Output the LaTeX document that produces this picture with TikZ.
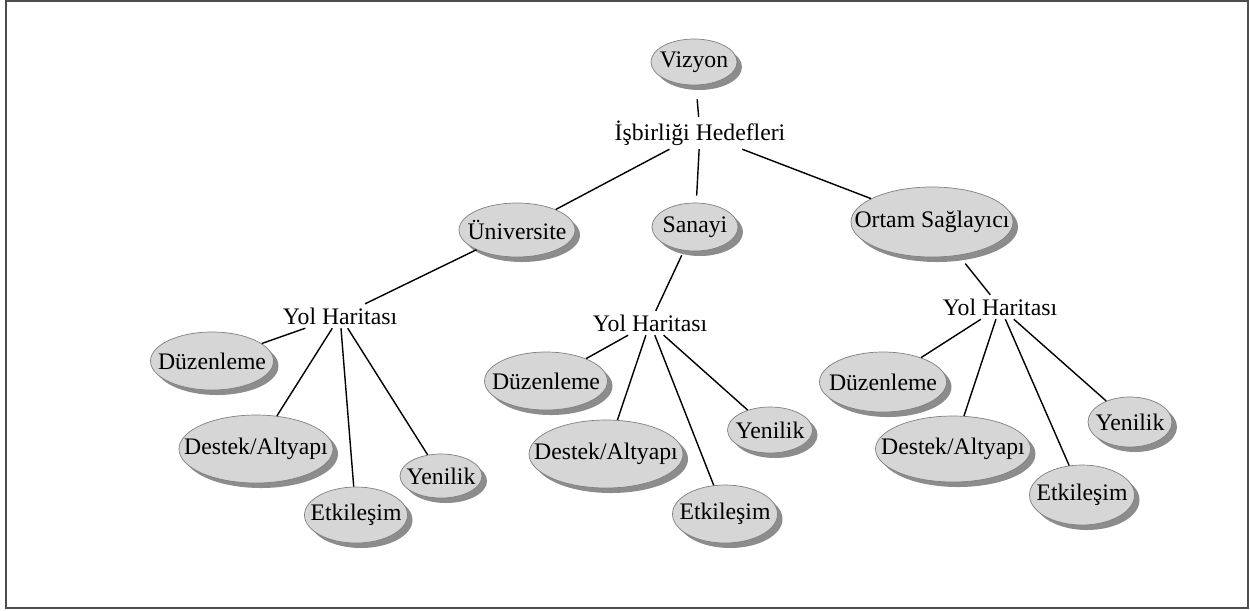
\documentclass[tikz,border=0pt]{standalone}
\usepackage{fontspec}
\setmainfont{Liberation Serif}
\usetikzlibrary{shapes.geometric,shadows}

\definecolor{bubblegray}{HTML}{D6D6D6}
\definecolor{bordergray}{HTML}{808080}
\definecolor{shadowgray}{HTML}{8C8C8C}
\definecolor{framegray}{HTML}{4D4D4D}

\tikzset{
  bubble/.style 2 args={ellipse, draw=bordergray, fill=bubblegray, inner sep=0pt,
    minimum width=#1*0.02cm, minimum height=#2*0.02cm,
    drop shadow={shadow xshift=0.1cm, shadow yshift=-0.1cm, fill=shadowgray, opacity=1}},
  plain/.style={inner sep=2pt},
  link/.style={line width=0.8pt}
}

\begin{document}
\begin{tikzpicture}[x=0.02cm, y=-0.02cm, font=\fontsize{13.5}{16}\selectfont]
  \useasboundingbox (0,0) rectangle (1250,610);
  \draw[framegray, line width=1.1pt] (6,1) rectangle (1248,608);

  % Top
  \node[bubble={86}{46}, label=center:Vizyon] (viz) at (694,62) {};
  \node[plain] (hedef) at (700,133) {İşbirliği Hedefleri};
  \node[bubble={116}{54}, label=center:Üniversite] (univ) at (517,230) {};
  \node[bubble={86}{48}, label=center:Sanayi] (sanayi) at (695,227) {};
  \node[bubble={162}{70}, label=center:Ortam Sağlayıcı] (ortam) at (932,222) {};

  % Road maps
  \node[plain] (yolA) at (340,316) {Yol Haritası};
  \node[plain] (yolB) at (650,323) {Yol Haritası};
  \node[plain] (yolC) at (1000,307) {Yol Haritası};

  % Left group
  \node[bubble={123}{58}, label=center:Düzenleme] (duzA) at (212,361) {};
  \node[bubble={154}{68}, label=center:Destek/Altyapı] (destekA) at (256,449) {};
  \node[bubble={103}{56}, label=center:Etkileşim] (etkA) at (356,515) {};
  \node[bubble={82}{44}, label=center:Yenilik] (yenA) at (441,476) {};

  % Middle group
  \node[bubble={123}{58}, label=center:Düzenleme] (duzB) at (546,381) {};
  \node[bubble={154}{68}, label=center:Destek/Altyapı] (destekB) at (606,454) {};
  \node[bubble={105}{58}, label=center:Etkileşim] (etkB) at (725,514) {};
  \node[bubble={85}{46}, label=center:Yenilik] (yenB) at (770,430) {};

  % Right group
  \node[bubble={127}{60}, label=center:Düzenleme] (duzC) at (883,382) {};
  \node[bubble={155}{66}, label=center:Destek/Altyapı] (destekC) at (953,449) {};
  \node[bubble={105}{60}, label=center:Etkileşim] (etkC) at (1082,495) {};
  \node[bubble={84}{50}, label=center:Yenilik] (yenC) at (1130,422) {};

  % Links
  \draw[link, shorten <=8pt] (viz) -- (hedef);
  \draw[link] (hedef) -- (univ);
  \draw[link, shorten >=4pt] (hedef) -- (sanayi);
  \draw[link] (hedef) -- (ortam);
  \draw[link] (univ) -- (yolA);
  \draw[link, shorten <=3pt] (sanayi) -- (yolB);
  \draw[link, shorten <=6pt] (ortam) -- (yolC);
  \foreach \g in {A,B,C} {
    \draw[link] (yol\g) -- (duz\g);
    \draw[link] (yol\g) -- (destek\g);
    \draw[link] (yol\g) -- (etk\g);
    \draw[link] (yol\g) -- (yen\g);
  }
\end{tikzpicture}
\end{document}
